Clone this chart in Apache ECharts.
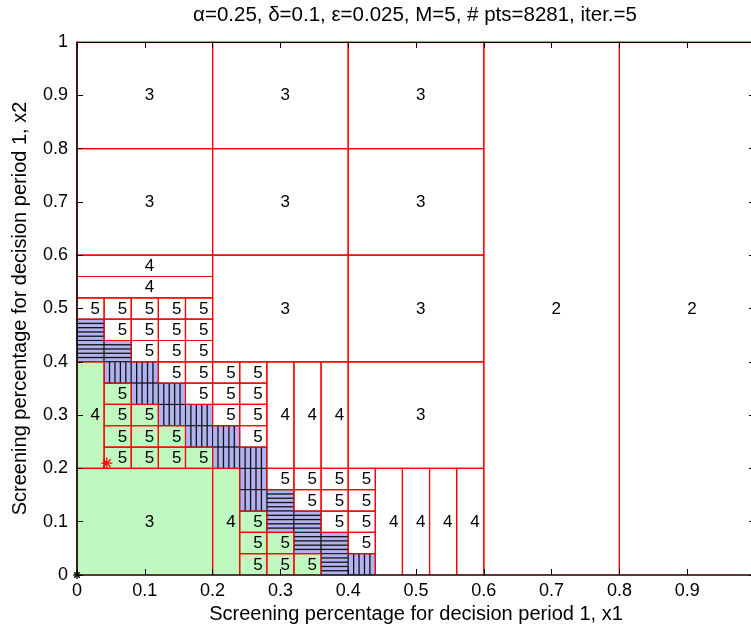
<!DOCTYPE html>
<html>
<head>
<meta charset="utf-8">
<script src="https://cdn.jsdelivr.net/npm/echarts@6/dist/echarts.min.js"></script>
<style>html,body{margin:0;padding:0;background:#fff;}#chart{width:751px;height:635px;}</style>
</head>
<body>
<div id="chart"></div>
<script>
// ---------- data ----------
const titleText = 'α=0.25, δ=0.1, ε=0.025, M=5, # pts=8281, iter.=5';
const xAxisName = 'Screening percentage for decision period 1, x1';
const yAxisName = 'Screening percentage for decision period 1, x2';
const tickValues = [0, 0.1, 0.2, 0.3, 0.4, 0.5, 0.6, 0.7, 0.8, 0.9, 1];
const tickLabels = ['0', '0.1', '0.2', '0.3', '0.4', '0.5', '0.6', '0.7', '0.8', '0.9', '1'];

// cells: [x0, y0, x1, y1]
const level2White = [[0.6, 0, 0.8, 1], [0.8, 0, 1, 1]];
const level3White = [
  [0, 0.8, 0.2, 1], [0.2, 0.8, 0.4, 1], [0.4, 0.8, 0.6, 1],
  [0, 0.6, 0.2, 0.8], [0.2, 0.6, 0.4, 0.8], [0.4, 0.6, 0.6, 0.8],
  [0.2, 0.4, 0.4, 0.6], [0.4, 0.4, 0.6, 0.6],
  [0.4, 0.2, 0.6, 0.4]
];
const level3Green = [[0, 0, 0.2, 0.2]];
const level4White = [
  [0, 0.56, 0.2, 0.6], [0, 0.52, 0.2, 0.56],
  [0.28, 0.2, 0.32, 0.4], [0.32, 0.2, 0.36, 0.4], [0.36, 0.2, 0.4, 0.4],
  [0.44, 0, 0.48, 0.2], [0.48, 0, 0.52, 0.2], [0.52, 0, 0.56, 0.2], [0.56, 0, 0.6, 0.2]
];
const level4Green = [[0, 0.2, 0.04, 0.4], [0.2, 0, 0.24, 0.2]];
const level5White = [
  [0, 0.48, 0.04, 0.52], [0.04, 0.48, 0.08, 0.52], [0.08, 0.48, 0.12, 0.52], [0.12, 0.48, 0.16, 0.52], [0.16, 0.48, 0.2, 0.52],
  [0.04, 0.44, 0.08, 0.48], [0.08, 0.44, 0.12, 0.48], [0.12, 0.44, 0.16, 0.48], [0.16, 0.44, 0.2, 0.48],
  [0.08, 0.4, 0.12, 0.44], [0.12, 0.4, 0.16, 0.44], [0.16, 0.4, 0.2, 0.44],
  [0.12, 0.36, 0.16, 0.4], [0.16, 0.36, 0.2, 0.4], [0.2, 0.36, 0.24, 0.4], [0.24, 0.36, 0.28, 0.4],
  [0.16, 0.32, 0.2, 0.36], [0.2, 0.32, 0.24, 0.36], [0.24, 0.32, 0.28, 0.36],
  [0.2, 0.28, 0.24, 0.32], [0.24, 0.28, 0.28, 0.32],
  [0.24, 0.24, 0.28, 0.28],
  [0.28, 0.16, 0.32, 0.2], [0.32, 0.16, 0.36, 0.2], [0.36, 0.16, 0.4, 0.2], [0.4, 0.16, 0.44, 0.2],
  [0.32, 0.12, 0.36, 0.16], [0.36, 0.12, 0.4, 0.16], [0.4, 0.12, 0.44, 0.16],
  [0.36, 0.08, 0.4, 0.12], [0.4, 0.08, 0.44, 0.12],
  [0.4, 0.04, 0.44, 0.08]
];
const level5Green = [
  [0.04, 0.32, 0.08, 0.36],
  [0.04, 0.28, 0.08, 0.32], [0.08, 0.28, 0.12, 0.32],
  [0.04, 0.24, 0.08, 0.28], [0.08, 0.24, 0.12, 0.28], [0.12, 0.24, 0.16, 0.28],
  [0.04, 0.2, 0.08, 0.24], [0.08, 0.2, 0.12, 0.24], [0.12, 0.2, 0.16, 0.24], [0.16, 0.2, 0.2, 0.24],
  [0.24, 0.08, 0.28, 0.12],
  [0.24, 0.04, 0.28, 0.08], [0.28, 0.04, 0.32, 0.08],
  [0.24, 0, 0.28, 0.04], [0.28, 0, 0.32, 0.04], [0.32, 0, 0.36, 0.04]
];
const hatchHoriz = [
  [0, 0.44, 0.04, 0.48], [0, 0.4, 0.04, 0.44], [0.04, 0.4, 0.08, 0.44],
  [0.28, 0.12, 0.32, 0.16],
  [0.28, 0.08, 0.32, 0.12], [0.32, 0.08, 0.36, 0.12],
  [0.32, 0.04, 0.36, 0.08], [0.36, 0.04, 0.4, 0.08],
  [0.36, 0, 0.4, 0.04]
];
const hatchVert = [
  [0.04, 0.36, 0.08, 0.4], [0.08, 0.36, 0.12, 0.4],
  [0.08, 0.32, 0.12, 0.36], [0.12, 0.32, 0.16, 0.36],
  [0.12, 0.28, 0.16, 0.32], [0.16, 0.28, 0.2, 0.32],
  [0.16, 0.24, 0.2, 0.28], [0.2, 0.24, 0.24, 0.28],
  [0.2, 0.2, 0.24, 0.24], [0.24, 0.2, 0.28, 0.24],
  [0.24, 0.16, 0.28, 0.2], [0.24, 0.12, 0.28, 0.16],
  [0.4, 0, 0.44, 0.04]
];
const optimumPoint = [[0.044, 0.21]];
const originPoint = [[0, 0]];

// ---------- styles ----------
const FONT = '"Liberation Sans", Arial, sans-serif';
const GREEN = '#bff9bf';
const BLUE = '#b2b2f0';
const RED = '#ff0000';

function rectOf(api) {
  const a = api.coord([api.value(0), api.value(1)]);
  const b = api.coord([api.value(2), api.value(3)]);
  return {
    x: Math.min(a[0], b[0]), y: Math.min(a[1], b[1]),
    width: Math.abs(b[0] - a[0]), height: Math.abs(b[1] - a[1])
  };
}

function fillSeries(cells, fill) {
  return {
    type: 'custom', coordinateSystem: 'cartesian2d', z: 1, silent: true,
    encode: { x: [0, 2], y: [1, 3] },
    data: cells,
    renderItem: function (params, api) {
      return { type: 'rect', shape: rectOf(api), style: { fill: fill } };
    }
  };
}

function outlineSeries(cells, label) {
  return {
    type: 'custom', coordinateSystem: 'cartesian2d', z: 3, silent: true,
    encode: { x: [0, 2], y: [1, 3] },
    data: cells,
    renderItem: function (params, api) {
      const r = rectOf(api);
      const c = api.coord([(api.value(0) + api.value(2)) / 2, (api.value(1) + api.value(3)) / 2]);
      return {
        type: 'group', children: [
          { type: 'rect', shape: r, style: { fill: null, stroke: RED, lineWidth: 1.2 } },
          { type: 'text', z2: 5, style: { text: label, x: c[0], y: c[1] + 0.5, align: 'left', verticalAlign: 'middle', font: '17px ' + FONT, fill: '#000' } }
        ]
      };
    }
  };
}

function hatchSeries(cells, horizontal) {
  return {
    type: 'custom', coordinateSystem: 'cartesian2d', z: 2, silent: true,
    encode: { x: [0, 2], y: [1, 3] },
    data: cells,
    renderItem: function (params, api) {
      const r = rectOf(api);
      const children = [{ type: 'rect', shape: r, style: { fill: BLUE, stroke: '#111', lineWidth: 1 } }];
      for (let i = 1; i < 5; i++) {
        const f = i / 5;
        const shape = horizontal
          ? { x1: r.x, y1: r.y + f * r.height, x2: r.x + r.width, y2: r.y + f * r.height }
          : { x1: r.x + f * r.width, y1: r.y, x2: r.x + f * r.width, y2: r.y + r.height };
        children.push({ type: 'line', shape: shape, style: { stroke: '#111', lineWidth: 1.3 } });
      }
      return { type: 'group', children: children };
    }
  };
}

function starSeries(points, color, size) {
  return {
    type: 'custom', coordinateSystem: 'cartesian2d', z: 6, silent: true,
    data: points,
    renderItem: function (params, api) {
      const p = api.coord([api.value(0), api.value(1)]);
      const d = size * 0.7;
      const segs = [[0, -size, 0, size], [-size, 0, size, 0], [-d, -d, d, d], [-d, d, d, -d]];
      return {
        type: 'group', children: segs.map(s => ({
          type: 'line', shape: { x1: p[0] + s[0], y1: p[1] + s[1], x2: p[0] + s[2], y2: p[1] + s[3] },
          style: { stroke: color, lineWidth: 1.3 }
        }))
      };
    }
  };
}

const fmt = v => {
  const i = tickValues.findIndex(t => Math.abs(t - v) < 1e-9);
  return i >= 0 ? tickLabels[i] : '';
};

const axisCommon = {
  type: 'value', min: 0, max: 1, interval: 0.1, z: 10,
  splitLine: { show: false },
  axisLine: { show: true, onZero: false, lineStyle: { color: '#000', width: 1 } },
  axisTick: { show: true, inside: true, length: 6, lineStyle: { color: '#000', width: 1 } }
};

const chart = echarts.init(document.getElementById('chart'), null, { renderer: 'canvas' });
chart.setOption({
  animation: false,
  backgroundColor: '#fff',
  grid: { left: 77, top: 42, width: 678, height: 533, containLabel: false, outerBoundsMode: 'none' },
  graphic: [{
    type: 'text', x: 415, y: 15, z: 100,
    style: { text: titleText, align: 'center', verticalAlign: 'middle', font: '20.5px ' + FONT, fill: '#000' }
  }],
  xAxis: [
    Object.assign({}, axisCommon, {
      position: 'bottom',
      axisLine: { show: true, onZero: false, lineStyle: { color: '#222', width: 1.6 } },
      axisLabel: { formatter: fmt, margin: 7, color: '#000', fontSize: 18, fontFamily: FONT },
      name: xAxisName, nameLocation: 'middle', nameGap: 27,
      nameTextStyle: { fontSize: 20, fontFamily: FONT, color: '#000' }
    }),
    Object.assign({}, axisCommon, { position: 'top', axisLabel: { show: false } })
  ],
  yAxis: [
    Object.assign({}, axisCommon, {
      position: 'left',
      axisLine: { show: true, onZero: false, lineStyle: { color: '#000', width: 1.5 } },
      axisLabel: { formatter: fmt, margin: 9, color: '#000', fontSize: 18, fontFamily: FONT },
      name: yAxisName, nameLocation: 'middle', nameGap: 47,
      nameTextStyle: { fontSize: 20, fontFamily: FONT, color: '#000' }
    }),
    Object.assign({}, axisCommon, { position: 'right', axisLabel: { show: false } })
  ],
  series: [
    fillSeries(level2White, '#fff'),
    fillSeries(level3White, '#fff'),
    fillSeries(level3Green, GREEN),
    fillSeries(level4White, '#fff'),
    fillSeries(level4Green, GREEN),
    fillSeries(level5White, '#fff'),
    fillSeries(level5Green, GREEN),
    hatchSeries(hatchHoriz, true),
    hatchSeries(hatchVert, false),
    outlineSeries(level2White, '2'),
    outlineSeries(level3White, '3'),
    outlineSeries(level3Green, '3'),
    outlineSeries(level4White, '4'),
    outlineSeries(level4Green, '4'),
    outlineSeries(level5White, '5'),
    outlineSeries(level5Green, '5'),
    starSeries(optimumPoint, RED, 5.5),
    starSeries(originPoint, '#000', 4)
  ]
});
</script>
</body>
</html>
